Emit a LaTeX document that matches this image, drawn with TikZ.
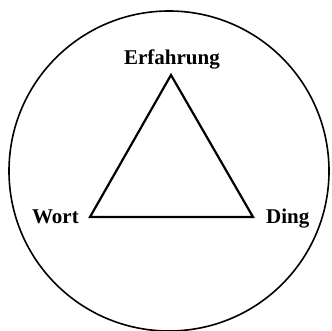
\documentclass[tikz,border=0pt]{standalone}
\usepackage{fontspec}
\setmainfont{Liberation Serif}
\usetikzlibrary{positioning}

\begin{document}
\begin{tikzpicture}[
  x=1pt, y=1pt,
  term/.style={font=\fontsize{21}{25}\selectfont\bfseries, inner sep=0pt, anchor=base},
  edge/.style={line width=2.2pt, line join=miter},
  rim/.style={line width=1.6pt}
]
  \useasboundingbox (0,0) rectangle (332,330);
  \draw[rim] (169,159) circle[radius=160];

  \coordinate (erf) at (171,255);
  \coordinate (wort) at (90,113);
  \coordinate (ding) at (253,113);

  \node[term] (erflabel) at (172,265) {Erfahrung};
  \node[term, anchor=base east] (wortlabel) at (79,107) {Wort};
  \node[term, anchor=base west] (dinglabel) at (266,107) {Ding};

  \draw[edge] (erf) -- (ding) -- (wort) -- cycle;
\end{tikzpicture}
\end{document}
